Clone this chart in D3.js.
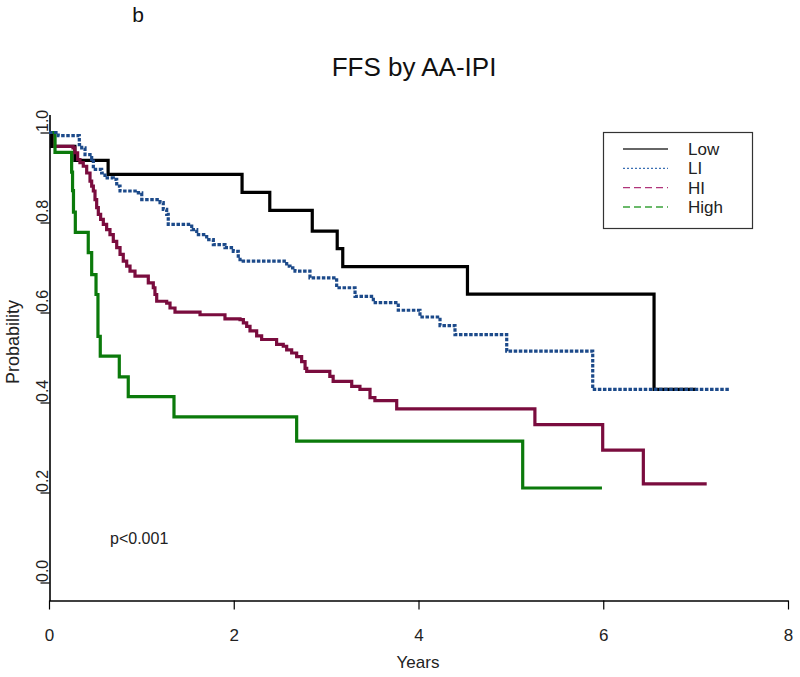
<!DOCTYPE html>
<html>
<head>
<meta charset="utf-8">
<script src="https://cdn.jsdelivr.net/npm/d3@7/dist/d3.min.js"></script>
<style>
  body { margin: 0; background: #fff; }
  svg { display: block; font-family: "Liberation Sans", Arial, sans-serif; }
</style>
</head>
<body>
<svg id="chart" width="800" height="677"></svg>
<script>
// ---- data ----
const groups = ["Low", "LI", "HI", "High"];
const xTicks = [0, 2, 4, 6, 8];
const yTicks = [0.0, 0.2, 0.4, 0.6, 0.8, 1.0];
const yTickLabels = ["0.0", "0.2", "0.4", "0.6", "0.8", "1.0"];

const lowTime = [0, 0.03, 0.28, 0.64, 2.09, 2.39, 2.85, 3.12, 3.18, 4.53, 6.55, 7.00];
const lowSurv = [1.0, 0.969, 0.938, 0.907, 0.867, 0.827, 0.781, 0.742, 0.702, 0.641, 0.429, 0.429];

const liTime = [0, 0.10, 0.328, 0.354, 0.39, 0.462, 0.48, 0.57, 0.606, 0.696, 0.733, 0.769, 0.967, 1.004,
  1.202, 1.237, 1.274, 1.291, 1.545, 1.599, 1.707, 1.779, 1.905, 1.995, 2.049, 2.068, 2.573, 2.609,
  2.663, 2.825, 3.114, 3.313, 3.511, 3.781, 4.016, 4.233, 4.395, 4.955, 5.886, 7.372];
const liSurv = [1.0, 0.993, 0.973, 0.966, 0.951, 0.940, 0.918, 0.910, 0.899, 0.896, 0.881, 0.870, 0.866, 0.851,
  0.844, 0.829, 0.818, 0.796, 0.784, 0.773, 0.762, 0.751, 0.744, 0.736, 0.725, 0.714, 0.703, 0.699,
  0.692, 0.677, 0.655, 0.636, 0.622, 0.605, 0.590, 0.571, 0.551, 0.514, 0.429, 0.429];

const hiTime = [0, 0.06, 0.26, 0.28, 0.31, 0.335, 0.371, 0.408, 0.444, 0.462, 0.48, 0.498, 0.516, 0.534,
  0.559, 0.588, 0.624, 0.66, 0.696, 0.733, 0.769, 0.804, 0.841, 0.877, 0.931, 1.075, 1.129, 1.147,
  1.166, 1.274, 1.31, 1.364, 1.635, 1.905, 2.068, 2.104, 2.14, 2.176, 2.248, 2.302, 2.464, 2.536,
  2.573, 2.627, 2.681, 2.735, 2.772, 2.79, 3.04, 3.076, 3.277, 3.366, 3.475, 3.528, 3.764, 5.26,
  5.994, 6.434, 7.12];
const hiSurv = [1.0, 0.969, 0.966, 0.955, 0.940, 0.933, 0.925, 0.910, 0.892, 0.881, 0.870, 0.851, 0.833, 0.818,
  0.807, 0.796, 0.784, 0.773, 0.758, 0.744, 0.729, 0.714, 0.703, 0.692, 0.681, 0.666, 0.655, 0.640,
  0.625, 0.621, 0.610, 0.601, 0.595, 0.586, 0.584, 0.577, 0.569, 0.559, 0.548, 0.540, 0.529, 0.525,
  0.517, 0.510, 0.502, 0.491, 0.476, 0.469, 0.458, 0.447, 0.436, 0.429, 0.411, 0.404, 0.386, 0.351,
  0.294, 0.219, 0.219];

const highTime = [0, 0.065, 0.245, 0.255, 0.265, 0.285, 0.425, 0.462, 0.509, 0.53, 0.555, 0.761, 0.858,
  1.353, 2.681, 5.128, 5.986];
const highSurv = [1.0, 0.956, 0.912, 0.871, 0.823, 0.778, 0.733, 0.684, 0.640, 0.547, 0.503, 0.457, 0.413,
  0.368, 0.314, 0.210, 0.210];

const titleText = "FFS by AA-IPI";
const panelLabel = "b";
const xLabel = "Years";
const yLabel = "Probability";
const pText = "p<0.001";

// ---- styles ----
const colors = { Low: "#000000", LI: "#1c4a8a", HI: "#7a0c3e", High: "#0b7a0b" };
const legendColors = { Low: "#333333", LI: "#3b6fb3", HI: "#b0347a", High: "#3aa33a" };
const dashes = { Low: null, LI: "3.5,1.6", HI: null, High: null };
const legendDashes = { Low: null, LI: "2,2", HI: "7,4", High: "7,4" };

const series = [
  { name: "Low", t: lowTime, s: lowSurv },
  { name: "LI", t: liTime, s: liSurv },
  { name: "HI", t: hiTime, s: hiSurv },
  { name: "High", t: highTime, s: highSurv }
];

const svg = d3.select("#chart");
const x = d3.scaleLinear().domain([0, 8]).range([49, 788]);
const y = d3.scaleLinear().domain([-0.04, 1.04]).range([600.5, 114.5]);

// axes
const xAxis = svg.append("g").attr("transform", "translate(0,600.5)")
  .call(d3.axisBottom(x).tickValues(xTicks).tickSize(9).tickSizeOuter(0).tickFormat(d3.format("d")));
xAxis.select(".domain").attr("stroke", "#000").attr("stroke-width", 1.6);
xAxis.selectAll(".tick line").attr("stroke", "#000").attr("stroke-width", 1.2);
xAxis.selectAll(".tick text").attr("font-size", 17).attr("fill", "#222")
  .attr("font-family", "Liberation Sans, Arial, sans-serif").attr("y", 28).attr("dy", "0.71em");

const yAxis = svg.append("g").attr("transform", "translate(49.5,0)")
  .call(d3.axisLeft(y).tickValues(yTicks).tickSize(9).tickSizeOuter(0)
    .tickFormat((d, i) => yTickLabels[i]));
yAxis.select(".domain").attr("stroke", "#000").attr("stroke-width", 1.6);
yAxis.selectAll(".tick line").attr("stroke", "#000").attr("stroke-width", 1.2);
yAxis.selectAll(".tick text")
  .attr("font-size", 16).attr("fill", "#222")
  .attr("font-family", "Liberation Sans, Arial, sans-serif")
  .attr("text-anchor", "start")
  .attr("transform", "rotate(-90)")
  .attr("x", 1).attr("y", -2).attr("dy", 0);

// curves
const line = d3.line().curve(d3.curveStepAfter).x(d => x(d[0])).y(d => y(d[1]));
const drawOrder = ["Low", "HI", "High", "LI"];
drawOrder.forEach(name => {
  const sr = series.find(s => s.name === name);
  const pts = sr.t.map((t, i) => [t, sr.s[i]]);
  svg.append("path").datum(pts)
    .attr("d", line)
    .attr("fill", "none")
    .attr("stroke", colors[name])
    .attr("stroke-width", 3.2)
    .attr("stroke-dasharray", dashes[name])
    .attr("stroke-linejoin", "miter");
});

// texts
svg.append("text").attr("x", 138).attr("y", 22).attr("text-anchor", "middle")
  .attr("font-size", 21).attr("fill", "#111").text(panelLabel);
svg.append("text").attr("x", 414).attr("y", 76).attr("text-anchor", "middle")
  .attr("font-size", 26).attr("fill", "#111").text(titleText);
svg.append("text").attr("x", 418).attr("y", 668).attr("text-anchor", "middle")
  .attr("font-size", 17).attr("fill", "#222").text(xLabel);
svg.append("text").attr("transform", "translate(19,342) rotate(-90)").attr("text-anchor", "middle")
  .attr("font-size", 18).attr("fill", "#222").text(yLabel);
svg.append("text").attr("x", 110).attr("y", 544)
  .attr("font-size", 16).attr("fill", "#222").text(pText);

// legend
const lg = svg.append("g");
lg.append("rect").attr("x", 603.5).attr("y", 132.5).attr("width", 149).attr("height", 96)
  .attr("fill", "#fff").attr("stroke", "#333").attr("stroke-width", 1.2);
const legY = d3.scalePoint().domain(groups).range([149, 207]);
groups.forEach(g => {
  lg.append("line").attr("x1", 623).attr("x2", 668).attr("y1", legY(g)).attr("y2", legY(g))
    .attr("stroke", legendColors[g]).attr("stroke-width", 1.3)
    .attr("stroke-dasharray", legendDashes[g]);
  lg.append("text").attr("x", 688).attr("y", legY(g)).attr("dy", "0.36em")
    .attr("font-size", 17).attr("fill", "#222").text(g);
});
</script>
</body>
</html>
